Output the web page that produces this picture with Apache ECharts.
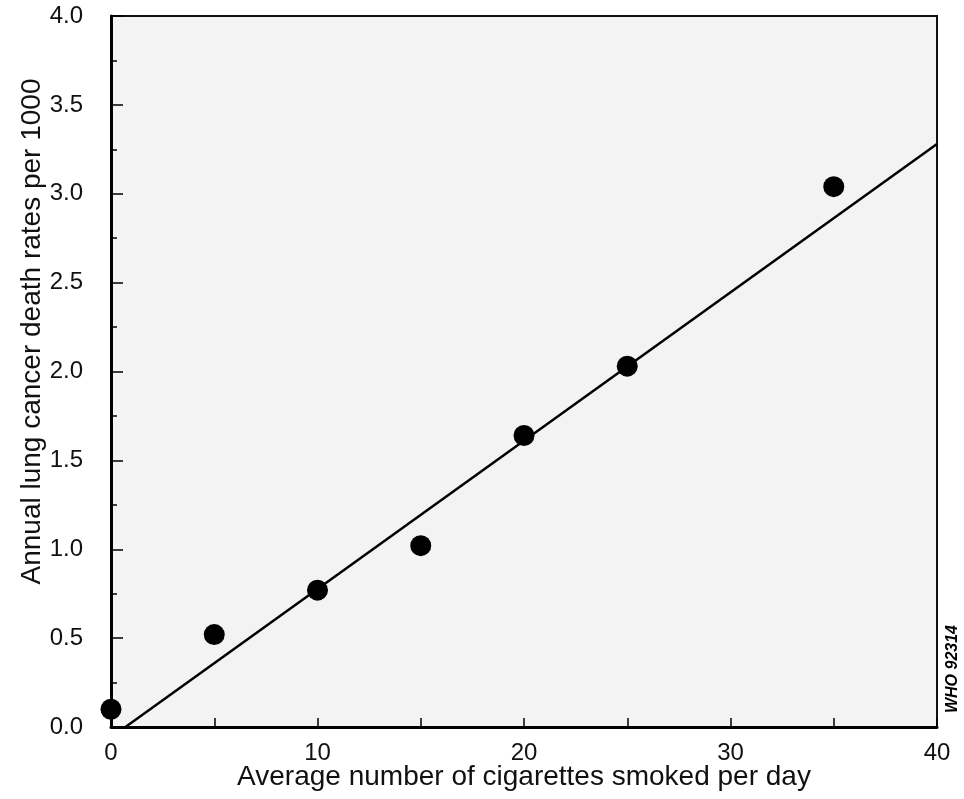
<!DOCTYPE html>
<html lang="en">
<head>
  <meta charset="UTF-8">
  <title>Lung cancer death rates vs cigarettes smoked</title>
  <script src="https://cdn.jsdelivr.net/npm/echarts@6/dist/echarts.min.js"></script>
  <style>
    html, body, #main {
      margin: 0;
      padding: 0;
      height: 100%;
      background: #fff;
    }
  </style>
</head>
<body>
  <div id="main"></div>

  <script>
    // points
    const cigarettes = [0, 5, 10, 15, 20, 25, 35];
    const deathRates = [0.10, 0.52, 0.77, 1.02, 1.64, 2.03, 3.04];

    // fitted line end points
    const fitX = [0.7, 40];
    const fitY = [0, 3.28];

    const font = 'Liberation Sans, Arial, sans-serif';
    const ink = '#000';

    const chart = echarts.init(document.getElementById('main'));
    const option = {
      animation: false,
      grid: {
        left: 111,
        right: 27,
        top: 16,
        bottom: 72,
        containLabel: false,
        outerBoundsMode: 'none',
        show: true,
        backgroundColor: '#f3f3f3',
        borderColor: '#111',
        borderWidth: 2
      },
      xAxis: {
        type: 'value',
        min: 0,
        max: 40,
        interval: 5,
        name: 'Average number of cigarettes smoked per day',
        nameLocation: 'middle',
        nameGap: 36,
        nameMoveOverlap: false,
        nameTextStyle: { fontFamily: font, fontSize: 28, color: '#111' },
        axisLine: { lineStyle: { color: ink, width: 3 } },
        axisTick: { inside: true, length: 9, lineStyle: { color: ink, width: 1.5 } },
        axisLabel: {
          fontFamily: font, fontSize: 24, color: '#111', margin: 14,
          formatter: v => (v % 10 === 0 ? String(v) : '')
        },
        splitLine: { show: false }
      },
      yAxis: {
        type: 'value',
        min: 0,
        max: 4,
        interval: 0.5,
        name: 'Annual lung cancer death rates per 1000',
        nameLocation: 'middle',
        nameGap: 65,
        nameMoveOverlap: false,
        nameTextStyle: { fontFamily: font, fontSize: 28, color: '#111', padding: [0, 0, 0, 80] },
        axisLine: { lineStyle: { color: ink, width: 3 } },
        axisTick: { inside: true, length: 12, lineStyle: { color: ink, width: 1.5 } },
        minorTick: { show: true, splitNumber: 2, length: 6, lineStyle: { color: ink, width: 1.5 } },
        axisLabel: {
          fontFamily: font, fontSize: 24, color: '#111', margin: 28,
          formatter: v => v.toFixed(1)
        },
        splitLine: { show: false }
      },
      graphic: [{
        type: 'text',
        right: 3,
        top: 625,
        rotation: Math.PI / 2,
        style: {
          text: 'WHO 92314',
          font: 'italic bold 16px ' + font,
          fill: ink
        }
      }],
      series: [
        {
          type: 'line',
          data: fitX.map((x, i) => [x, fitY[i]]),
          symbol: 'none',
          lineStyle: { color: ink, width: 2.5 },
          z: 2
        },
        {
          type: 'scatter',
          data: cigarettes.map((x, i) => [x, deathRates[i]]),
          symbolSize: 21,
          itemStyle: { color: '#000', opacity: 1 },
          z: 3
        }
      ]
    };

    chart.setOption(option);
  </script>
</body>
</html>
